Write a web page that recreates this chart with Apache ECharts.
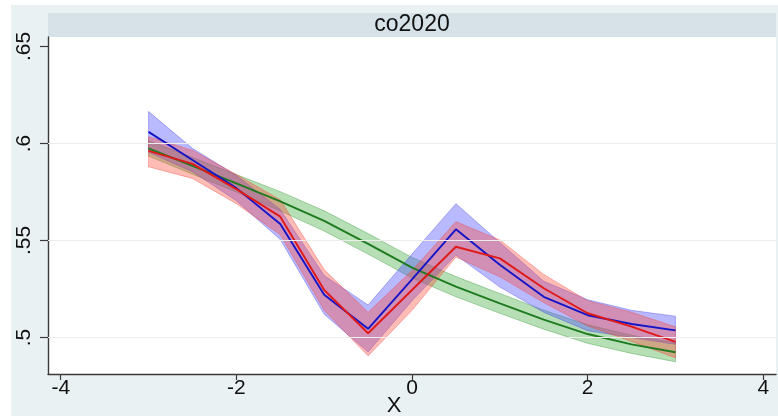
<!DOCTYPE html>
<html>
<head>
<meta charset="utf-8">
<script src="https://cdn.jsdelivr.net/npm/echarts@6/dist/echarts.min.js"></script>
<style>
  html, body { margin: 0; padding: 0; background: #fff; }
  #chart { width: 778px; height: 416px; }
</style>
</head>
<body>
<div id="chart"></div>
<script>
// x grid of the margins
const xs = [-3, -2.5, -2, -1.5, -1, -0.5, 0, 0.5, 1, 1.5, 2, 2.5, 3];

// blue group
const blueEst = [0.606, 0.5915, 0.577, 0.5585, 0.522, 0.5045, 0.530, 0.5558, 0.5375, 0.521, 0.5115, 0.507, 0.5037];
const blueLo  = [0.5955, 0.5855, 0.5705, 0.5505, 0.512, 0.4925, 0.519, 0.5425, 0.526, 0.513, 0.5035, 0.500, 0.4965];
const blueHi  = [0.6165, 0.5975, 0.5835, 0.566, 0.532, 0.5168, 0.543, 0.569, 0.549, 0.529, 0.5195, 0.514, 0.511];

// red group
const redEst = [0.5962, 0.5895, 0.5765, 0.5623, 0.5245, 0.5022, 0.5245, 0.5468, 0.5408, 0.5254, 0.5125, 0.5056, 0.4978];
const redLo  = [0.588, 0.582, 0.569, 0.553, 0.514, 0.4905, 0.514, 0.5415, 0.5313, 0.518, 0.506, 0.498, 0.4895];
const redHi  = [0.6035, 0.5965, 0.584, 0.571, 0.535, 0.513, 0.5345, 0.5597, 0.5503, 0.5325, 0.519, 0.513, 0.5055];

// green group (smooth fit)
const greenEst = [0.5975, 0.5885, 0.5795, 0.5702, 0.5601, 0.5483, 0.536, 0.5262, 0.5176, 0.5092, 0.5018, 0.4965, 0.4924];
const greenLo  = [0.5935, 0.5842, 0.575, 0.5652, 0.5549, 0.5430, 0.5307, 0.5210, 0.5125, 0.5043, 0.4970, 0.4918, 0.4875];
const greenHi  = [0.6015, 0.5928, 0.584, 0.5752, 0.5653, 0.5536, 0.5413, 0.5314, 0.5227, 0.5141, 0.5066, 0.5012, 0.4973];

const xTicks = [-4, -2, 0, 2, 4];
const yTicks = [0.5, 0.55, 0.6, 0.65];
const panelTitle = 'co2020';
const xTitle = 'X';

const FONT = '"Liberation Sans", Arial, Helvetica, sans-serif';

const chart = echarts.init(document.getElementById('chart'));

function pairs(vals) {
  return xs.map((x, i) => [x, vals[i]]);
}

// confidence band: one polygon, upper edge left->right then lower edge back
function band(lo, hi, fill, edge) {
  return {
    type: 'custom', data: [[0, 0.55]], silent: true, z: 2, clip: true,
    renderItem: (params, api) => {
      const top = xs.map((x, i) => api.coord([x, hi[i]]));
      const bot = xs.map((x, i) => api.coord([x, lo[i]])).reverse();
      return {
        type: 'polygon',
        shape: { points: top.concat(bot) },
        style: { fill: fill, stroke: edge, lineWidth: 0.8 }
      };
    }
  };
}

function line(vals, color) {
  return {
    type: 'line', data: pairs(vals), symbol: 'none', silent: true, z: 3,
    lineStyle: { color: color, width: 1.9 }
  };
}

const option = {
  backgroundColor: '#fff',
  animation: false,
  graphic: [
    { type: 'rect', z: -10, shape: { x: 11, y: 5, width: 767, height: 411 }, style: { fill: '#eaf1f3' } },
    { type: 'rect', z: -9, shape: { x: 48, y: 13, width: 728, height: 24 }, style: { fill: '#d6e2e8' } },
    { type: 'text', z: -8, x: 412, y: 25, style: { text: panelTitle, font: '23px ' + FONT, fill: '#111', textAlign: 'center', textVerticalAlign: 'middle' } }
  ],
  grid: {
    left: 48, right: 2, top: 37, bottom: 42,
    show: true, backgroundColor: '#fff', borderWidth: 0,
    outerBoundsMode: 'none'
  },
  xAxis: {
    type: 'value', min: -4.145, max: 4.145,
    name: xTitle, nameLocation: 'middle', nameGap: 21, nameMoveOverlap: false,
    nameTextStyle: { fontSize: 22, fontFamily: FONT, color: '#111', padding: [0, 36, 0, 0] },
    axisLine: { show: true, onZero: false, lineStyle: { color: '#3a3a3a', width: 1.4 } },
    axisTick: { show: true, customValues: xTicks, length: 6, lineStyle: { color: '#3a3a3a', width: 1.2 } },
    axisLabel: { customValues: xTicks, fontSize: 21, fontFamily: FONT, color: '#111', margin: 4 },
    splitLine: { show: false }
  },
  yAxis: {
    type: 'value', min: 0.4812, max: 0.6549,
    axisLine: { show: true, onZero: false, lineStyle: { color: '#3a3a3a', width: 1.4 } },
    axisTick: { show: true, customValues: yTicks, length: 8, lineStyle: { color: '#3a3a3a', width: 1.2 } },
    axisLabel: {
      customValues: yTicks, rotate: 90, fontSize: 21, fontFamily: FONT, color: '#111', margin: 13,
      formatter: v => String(+v.toFixed(2)).replace(/^0/, '')
    },
    splitLine: { show: false }
  },
  series: [
    // grid lines at the labelled values
    {
      type: 'line', data: [], silent: true, z: 1,
      markLine: {
        silent: true, symbol: 'none', label: { show: false },
        lineStyle: { color: '#ececec', width: 1, type: 'solid' },
        data: yTicks.slice(0, 3).map(v => ({ yAxis: v }))
      }
    },
    band(greenLo, greenHi, 'rgba(40,160,40,0.34)', 'rgba(40,140,40,0.45)'),
    band(blueLo, blueHi, 'rgba(70,70,255,0.38)', 'rgba(60,60,230,0.45)'),
    band(redLo, redHi, 'rgba(255,70,50,0.36)', 'rgba(240,60,50,0.45)'),
    line(greenEst, '#1e7a1e'),
    line(blueEst, '#1414c8'),
    line(redEst, '#e01818')
  ]
};

chart.setOption(option);
</script>
</body>
</html>
